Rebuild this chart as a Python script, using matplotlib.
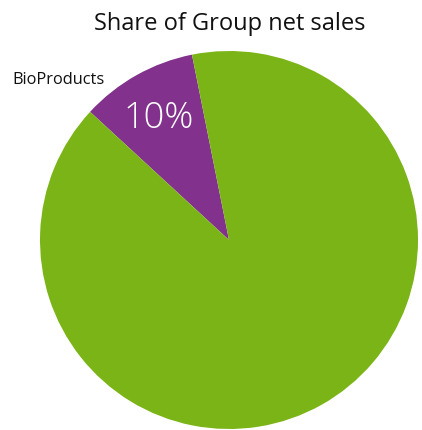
import matplotlib
matplotlib.use("Agg")
import matplotlib.pyplot as plt

categories = ["BioProducts", "Other"]
shares = [10, 90]
colors = ["#82318C", "#7BB416"]
title = "Share of Group net sales"

W, H = 422, 430
fig = plt.figure(figsize=(W / 100, H / 100), dpi=100)
ax = fig.add_axes([0, 0, 1, 1])

cx, cy, r = 229, H - 240, 189
wedges, _ = ax.pie(shares, colors=colors, startangle=101.3, counterclock=True,
                   center=(cx, cy), radius=r, frame=True,
                   wedgeprops=dict(linewidth=0))
ax.set_xlim(0, W)
ax.set_ylim(0, H)
ax.set_aspect("equal")
ax.axis("off")

ax.text(229.5, H - 24, title, ha="center", va="center", fontsize=17,
        family="Open Sans", color="#111111")
ax.text(12, H - 80, categories[0], ha="left", va="center", fontsize=11.8,
        family="Open Sans", color="#111111")
ax.text(159, H - 119, f"{shares[0]}%", ha="center", va="center", fontsize=26,
        family="Open Sans", fontweight="light", color="white")

fig.savefig("out.png", dpi=100)
